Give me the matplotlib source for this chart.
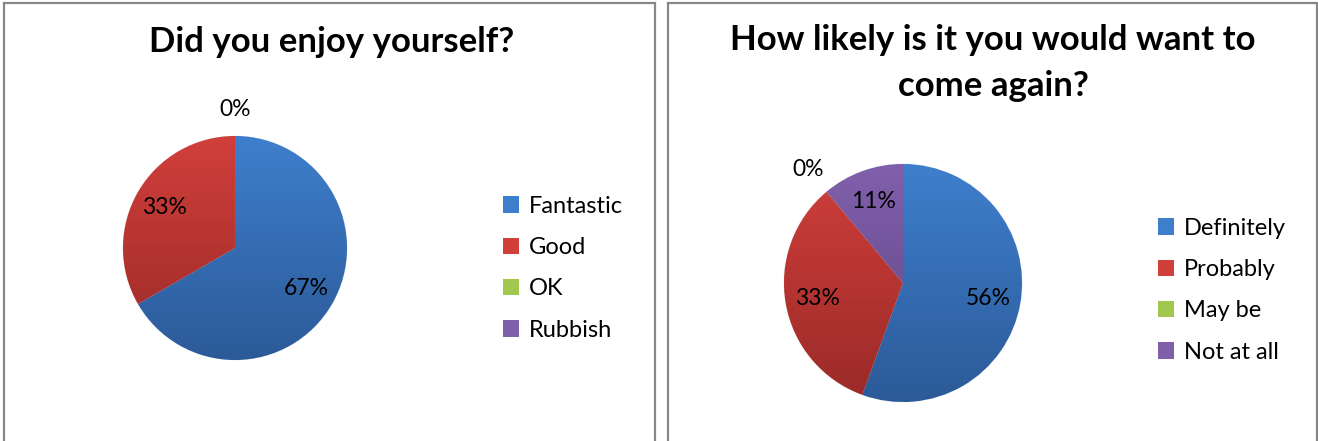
import numpy as np
import matplotlib
matplotlib.use("Agg")
import matplotlib.pyplot as plt
from matplotlib.patches import Patch, Rectangle
from matplotlib.colors import LinearSegmentedColormap

plt.rcParams["font.family"] = ["Lato", "DejaVu Sans"]

# data
enjoy_labels = ["Fantastic", "Good", "OK", "Rubbish"]
enjoy_values = [6, 3, 0, None]          # Rubbish left blank -> no label
again_labels = ["Definitely", "Probably", "May be", "Not at all"]
again_values = [5, 3, 0, 1]

# (top, bottom) gradient colours for the Excel-style fills
grads = [("#3e7fcd", "#2c5a98"),
         ("#d13f3b", "#9a2a28"),
         ("#a0c84e", "#6e8f33"),
         ("#8060aa", "#5e4386")]

W, H = 1318, 441
fig = plt.figure(figsize=(W / 100, H / 100), dpi=100)


def px_axes(cx, cy, r):
    return fig.add_axes([(cx - r) / W, (H - cy - r) / H, 2 * r / W, 2 * r / H])


def draw_pie(ax, labels, values, leg_xy):
    vals = [0 if v is None else v for v in values]
    total = float(sum(vals))
    mids = [c[0] for c in grads]
    wedges, _ = ax.pie(vals, startangle=90, counterclock=False, colors=mids,
                       radius=1, wedgeprops=dict(linewidth=0.6, edgecolor="#f0f0f0"))
    yy = np.linspace(1, 0, 256).reshape(-1, 1)
    for w, v, (top, bot) in zip(wedges, vals, grads):
        if v == 0:
            continue
        cmap = LinearSegmentedColormap.from_list("g", [bot, top])
        im = ax.imshow(yy, cmap=cmap, extent=[-1, 1, -1, 1], aspect="auto",
                       origin="upper", zorder=w.get_zorder() + 0.1)
        im.set_clip_path(w)
    # percentage labels
    for w, v in zip(wedges, values):
        if v is None:
            continue
        ang = np.deg2rad((w.theta1 + w.theta2) / 2)
        d = 1.24 if v == 0 else 0.73
        ax.text(d * np.cos(ang), d * np.sin(ang), f"{round(100 * v / total):.0f}%",
                ha="center", va="center", fontsize=16.5, color="black")
    ax.set_xlim(-1, 1)
    ax.set_ylim(-1, 1)
    ax.set_aspect("equal")
    ax.axis("off")
    handles = [Patch(facecolor=c[0], edgecolor="none") for c in grads]
    fig.legend(handles, labels, loc="upper left",
               bbox_to_anchor=(leg_xy[0] / W, 1 - leg_xy[1] / H),
               frameon=False, fontsize=17, handlelength=0.7, handleheight=0.7,
               handletextpad=0.4, labelspacing=0.86, borderpad=0)


# panel borders
for x0, x1 in [(4, 655), (668, 1317)]:
    fig.patches.append(Rectangle((x0 / W, -0.05), (x1 - x0) / W, 1.05 - 3 / H,
                                 transform=fig.transFigure, fill=False,
                                 edgecolor="#878787", linewidth=1.6))

ax1 = px_axes(235, 248, 112)
draw_pie(ax1, enjoy_labels, enjoy_values, (491, 184))
fig.text(332 / W, 1 - 42 / H, "Did you enjoy yourself?", ha="center", va="center",
         fontsize=25, fontweight="bold")

ax2 = px_axes(903, 283, 119)
draw_pie(ax2, again_labels, again_values, (1146, 206))
fig.text(993 / W, 1 - 63 / H, "How likely is it you would want to\ncome again?",
         ha="center", va="center", fontsize=25, fontweight="bold", linespacing=1.5)

fig.savefig("out.png", dpi=100)
